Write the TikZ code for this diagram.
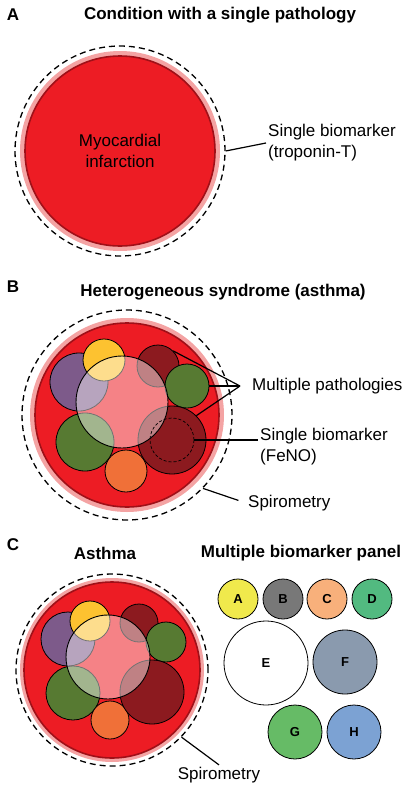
\documentclass[tikz,border=0pt]{standalone}
\usepackage{fontspec}
\setmainfont{Liberation Sans}
\usetikzlibrary{positioning}

\definecolor{bloodred}{HTML}{ED1C24}
\definecolor{shadowred}{HTML}{A01018}
\definecolor{halopink}{HTML}{F4A3A3}
\definecolor{eosyellow}{HTML}{FDC230}
\definecolor{plum}{HTML}{7D5A8A}
\definecolor{maroon}{HTML}{8C1A1F}
\definecolor{olive}{HTML}{577A32}
\definecolor{tangerine}{HTML}{F07038}
\definecolor{mkA}{HTML}{F0E94C}
\definecolor{mkB}{HTML}{787878}
\definecolor{mkC}{HTML}{F8B07B}
\definecolor{mkD}{HTML}{52BA80}
\definecolor{mkF}{HTML}{8A9AAE}
\definecolor{mkG}{HTML}{66BB66}
\definecolor{mkH}{HTML}{7CA2D3}

\tikzset{
    panel/.style = {
        font=\bfseries\fontsize{17}{21}\selectfont,
        inner sep=0pt
    },
    heading/.style = {
        font=\bfseries\fontsize{17}{21}\selectfont,
        inner sep=0pt
    },
    note/.style = {
        font=\fontsize{17}{21}\selectfont,
        align=left,
        inner sep=2pt
    },
    halo/.style = {
        circle, fill=halopink, inner sep=0pt, minimum size=#1
    },
    disease/.style = {
        circle, fill=bloodred, draw=shadowred, line width=1.6pt,
        inner sep=0pt, minimum size=#1
    },
    testring/.style = {
        circle, draw, dashed, dash pattern=on 6pt off 4pt,
        line width=1.3pt, inner sep=0pt, minimum size=#1
    },
    patho/.style = {
        circle, draw, line width=0.8pt, inner sep=0pt, minimum size=#1
    },
    overlay/.style = {
        circle, draw, line width=0.9pt, fill=white, fill opacity=0.45,
        draw opacity=1, inner sep=0pt, minimum size=#1
    },
    marker/.style = {
        circle, draw, line width=0.8pt, inner sep=0pt, minimum size=#1,
        font=\bfseries\fontsize{13}{15}\selectfont
    },
    connect/.style = {
        line width=1.2pt,
        black
    }
}

\begin{document}
\begin{tikzpicture}[x=1pt, y=-1pt]
    \useasboundingbox (0,0) rectangle (412,790);

    % Panel A: single pathology
    \node[panel] (pA) at (13,15) {A};
    \node[heading] (tA) at (220,15) {Condition with a single pathology};

    \node[testring=210] (ringA) at (120,151) {};
    \node[halo=200] (haloA) at (120,151) {};
    \node[disease=190, font=\fontsize{17}{21}\selectfont, align=center] (mi) at (120,151) {Myocardial\\infarction};

    \node[note, anchor=west] (tropA) at (266,143) {Single biomarker\\(troponin-T)};
    \draw[connect] (ringA.east) -- (tropA.west);

    % Panel B: heterogeneous syndrome
    \node[panel] (pB) at (13,287) {B};
    \node[heading] (tB) at (223,292) {Heterogeneous syndrome (asthma)};

    \node[testring=210] (ringB) at (127,415) {};
    \node[halo=194] (haloB) at (127,415) {};
    \node[disease=184] (asB) at (127,415) {};

    \node[patho=58, fill=plum] (plB) at (79,382) {};
    \node[patho=42, fill=eosyellow] (yeB) at (104,360) {};
    \node[patho=42, fill=maroon] (mrB) at (158,366) {};
    \node[patho=44, fill=olive] (grB) at (187,386) {};
    \node[patho=58, fill=olive] (olB) at (85,442) {};
    \node[patho=42, fill=tangerine] (orB) at (126,471) {};
    \node[patho=68, fill=maroon] (bgB) at (172,440) {};
    \node[overlay=92] (ovB) at (122,402) {};
    \node[testring=44, line width=0.7pt, dash pattern=on 3pt off 2pt] (fenoB) at (172,440) {};

    % labels of panel B
    \coordinate (mpB) at (240,386);
    \node[note, right=10pt of mpB] (multB) {Multiple pathologies};
    \draw[connect] (mrB.45) -- (mpB);
    \draw[connect] (grB.east) -- (mpB);
    \draw[connect] (bgB.45) -- (mpB);

    \node[note, anchor=north west] (feB) at (258,426) {Single biomarker\\(FeNO)};
    \draw[connect] (fenoB.east) -- (fenoB.east -| feB.west);

    \node[note, anchor=west] (spB) at (246,503) {Spirometry};
    \draw[connect, shorten >=8pt] (ringB.-44) -- (spB.west);

    % Panel C: asthma and biomarker panel
    \node[panel] (pC) at (13,545) {C};
    \node[heading] (tC) at (105,553) {Asthma};
    \node[heading] (tP) at (301,553) {Multiple biomarker panel};

    \node[testring=192] (ringC) at (112,670) {};
    \node[halo=184] (haloC) at (112,670) {};
    \node[disease=176] (asC) at (112,670) {};

    \node[patho=54, fill=plum] (plC) at (68,639) {};
    \node[patho=40, fill=eosyellow] (yeC) at (90,621) {};
    \node[patho=38, fill=maroon] (mrC) at (139,623) {};
    \node[patho=40, fill=olive] (grC) at (166,642) {};
    \node[patho=54, fill=olive] (olC) at (73,693) {};
    \node[patho=38, fill=tangerine] (orC) at (110,720) {};
    \node[patho=64, fill=maroon] (bgC) at (152,692) {};
    \node[overlay=84] (ovC) at (108,657) {};

    \node[note, anchor=center] (spC) at (219,775) {Spirometry};
    \draw[connect] (ringC.-44) -- (spC.north);

    % Draw biomarker panel
    \node[marker=40, fill=mkA] (mA) at (238,599) {A};
    \node[marker=40, fill=mkB] (mB) at (283,599) {B};
    \node[marker=40, fill=mkC] (mC) at (327,599) {C};
    \node[marker=40, fill=mkD] (mD) at (372,599) {D};
    \node[marker=84, fill=white] (mE) at (266,663) {E};
    \node[marker=64, fill=mkF] (mF) at (345,662) {F};
    \node[marker=54, fill=mkG] (mG) at (295,732) {G};
    \node[marker=54, fill=mkH] (mH) at (354,732) {H};
\end{tikzpicture}
\end{document}
